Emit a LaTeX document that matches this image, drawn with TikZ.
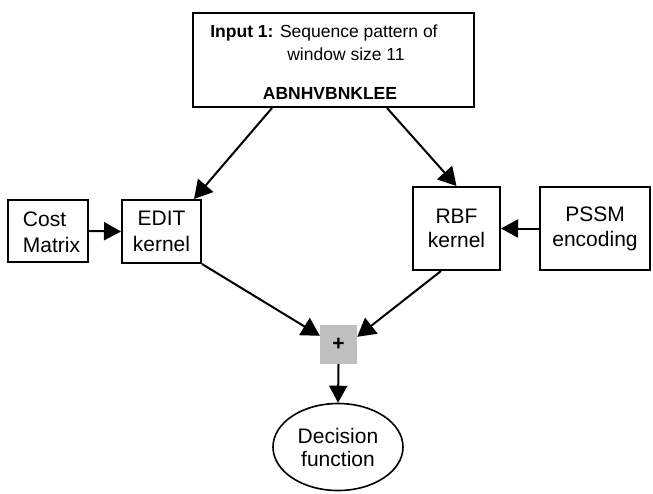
\documentclass[tikz,border=0pt]{standalone}
\usepackage{fontspec}
\setmainfont{Liberation Sans}
\usetikzlibrary{arrows.meta,shapes.geometric}
\begin{document}
\begin{tikzpicture}[x=1pt,y=-1pt,
  box/.style={draw, line width=2pt, inner sep=0pt},
  bigtxt/.style={font=\fontsize{21}{26}\selectfont, align=center, inner sep=0pt},
  smalltxt/.style={font=\fontsize{17.5}{21}\selectfont, inner sep=0pt, anchor=base},
  arr/.style={line width=2pt, -{Triangle[length=17pt,width=18pt]}},
  bigarr/.style={line width=2pt, -{Triangle[length=18pt,width=20pt]}}]
\useasboundingbox (0,0) rectangle (653,493);
% input box
\node[box, minimum width=281pt, minimum height=94pt] (in) at (333.5,60) {};
\node[smalltxt] (l1) at (324,37) {\textbf{Input 1:} Sequence pattern of};
\node[smalltxt] (l2) at (346,60) {window size 11};
\node[smalltxt] (seq) at (330,99) {\textbf{ABNHVBNKLEE}};
% cost matrix
\node[box, minimum width=80pt, minimum height=62pt] (cost) at (48,231) {};
\node[bigtxt, align=left, font=\fontsize{21}{26.5}\selectfont] (costt) at (51.5,232.5) {Cost\\Matrix};
% edit kernel
\node[box, minimum width=79pt, minimum height=63pt, bigtxt, font=\fontsize{21}{26.5}\selectfont] (edit) at (161.5,231.5) {EDIT\\kernel};
% rbf kernel
\node[box, minimum width=87pt, minimum height=83pt, bigtxt, font=\fontsize{21}{24}\selectfont] (rbf) at (456.5,228.5) {RBF\\kernel};
% pssm
\node[box, minimum width=110pt, minimum height=83pt, bigtxt, font=\fontsize{21}{25}\selectfont] (pssm) at (595,228.5) {PSSM\\encoding};
% plus
\node[fill=black!25, minimum width=37pt, minimum height=39pt, inner sep=0pt, font=\fontsize{21}{22}\selectfont\bfseries] (plus) at (338.5,344.5) {+};
% decision
\node[ellipse, draw, line width=1.6pt, minimum width=130pt, minimum height=87pt, inner sep=0pt, bigtxt, font=\fontsize{21}{23}\selectfont] (dec) at (338,447) {Decision\\function};
% connectors
\draw[bigarr] ([xshift=80pt]in.south west) -- ([xshift=-8pt]edit.north east);
\draw[bigarr] ([xshift=195pt]in.south west) -- (rbf.north);
\draw[arr] (cost.east) -- (edit.west);
\draw[arr] (pssm.west) -- (rbf.east);
\draw[bigarr] (edit.south east) -- ([yshift=-11pt]plus.north west);
\draw[bigarr] ([xshift=29pt]rbf.south west) -- ([yshift=-12pt]plus.north east);
\draw[arr] (plus.south) -- (dec.north);
\end{tikzpicture}
\end{document}
